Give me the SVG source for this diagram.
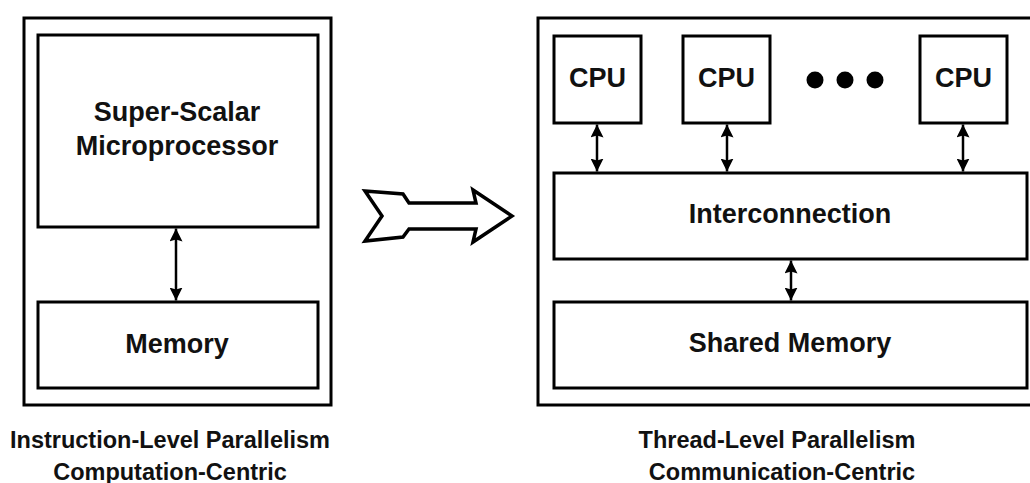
<svg xmlns="http://www.w3.org/2000/svg" width="1030" height="483" viewBox="0 0 1030 483">
<style>
.box{fill:#fff;stroke:#000;stroke-width:3}
.lbl{font-family:"Liberation Sans",Arial,sans-serif;font-weight:bold;font-size:27px;fill:#111;text-anchor:middle}
.cap{font-family:"Liberation Sans",Arial,sans-serif;font-weight:bold;font-size:23.5px;fill:#111;text-anchor:middle}
.con{stroke:#000;stroke-width:2.5;fill:none;marker-start:url(#ah);marker-end:url(#ah)}
</style>
<defs>
<marker id="ah" markerUnits="userSpaceOnUse" viewBox="0 0 13 13" refX="13" refY="6.5" markerWidth="13" markerHeight="13" orient="auto-start-reverse">
<path d="M0,0 L13,6.5 L0,13 L2,6.5 z" fill="#000"/>
</marker>
</defs>
<rect width="1030" height="483" fill="#fff"/>
<g id="ilp-system">
<rect class="box" x="24" y="18" width="307" height="387"/>
</g>
<g id="superscalar">
<rect class="box" x="38" y="35" width="280" height="192"/>
<text class="lbl" x="177" y="121">Super-Scalar</text>
<text class="lbl" x="177" y="155">Microprocessor</text>
</g>
<g id="memory">
<rect class="box" x="38" y="302" width="280" height="86"/>
<text class="lbl" x="177" y="353">Memory</text>
</g>
<g id="ilp-label">
<text class="cap" x="170" y="448">Instruction-Level Parallelism</text>
<text class="cap" x="170" y="480">Computation-Centric</text>
</g>
<g id="transition-arrow">
<path d="M365,191 L403,194 L409,203 L476,203 L473,190 L512,216 L473,242 L476,229 L409,229 L403,237 L365,241 L382,216 Z" fill="#fff" stroke="#000" stroke-width="3.5" stroke-linejoin="miter"/>
</g>
<g id="tlp-system">
<rect class="box" x="538" y="18" width="500" height="387"/>
</g>
<g id="cpu1">
<rect class="box" x="554" y="36" width="87" height="87"/>
<text class="lbl" x="597.5" y="87">CPU</text>
</g>
<g id="cpu2">
<rect class="box" x="683" y="36" width="87" height="87"/>
<text class="lbl" x="726.5" y="87">CPU</text>
</g>
<g id="ellipsis">
<circle cx="815" cy="80" r="8.5" fill="#000"/>
<circle cx="845" cy="80" r="8.5" fill="#000"/>
<circle cx="875" cy="80" r="8.5" fill="#000"/>
</g>
<g id="cpu3">
<rect class="box" x="920" y="36" width="87" height="87"/>
<text class="lbl" x="963.5" y="87">CPU</text>
</g>
<g id="interconnection">
<rect class="box" x="554" y="173" width="473" height="86"/>
<text class="lbl" x="790" y="223">Interconnection</text>
</g>
<g id="shared-memory">
<rect class="box" x="554" y="302" width="473" height="86"/>
<text class="lbl" x="790" y="352">Shared Memory</text>
</g>
<g id="tlp-label">
<text class="cap" x="777" y="448">Thread-Level Parallelism</text>
<text class="cap" x="782" y="480">Communication-Centric</text>
</g>
<g id="connectors">
<line class="con" x1="176" y1="228.5" x2="176" y2="300.5"/>
<line class="con" x1="597" y1="124.5" x2="597" y2="171.5"/>
<line class="con" x1="727" y1="124.5" x2="727" y2="171.5"/>
<line class="con" x1="963" y1="124.5" x2="963" y2="171.5"/>
<line class="con" x1="791" y1="260.5" x2="791" y2="300.5"/>
</g>
</svg>
